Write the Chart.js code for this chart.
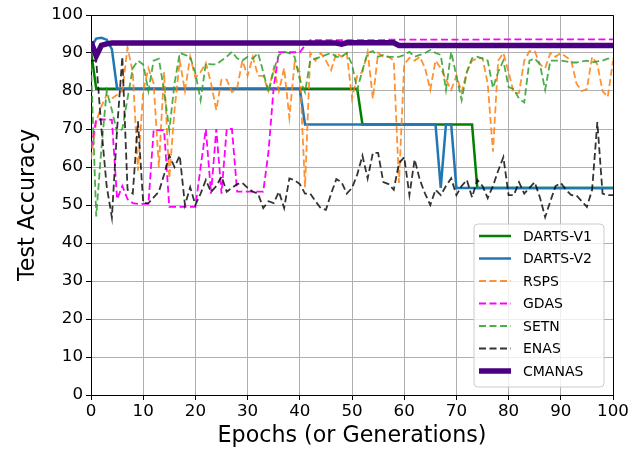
<!DOCTYPE html>
<html><head><meta charset="utf-8">
<script src="https://cdn.jsdelivr.net/npm/chart.js@4.4.0/dist/chart.umd.min.js"></script>
<style>html,body{margin:0;padding:0;background:#fff;}</style>
</head><body>
<canvas id="c" width="640" height="451"></canvas>
<script>
const epochs = Array.from({length: 101}, (_, i) => i);
const xTicks = [0, 10, 20, 30, 40, 50, 60, 70, 80, 90, 100];
const yTicks = [0, 10, 20, 30, 40, 50, 60, 70, 80, 90, 100];
const labels = ["DARTS-V1", "DARTS-V2", "RSPS", "GDAS", "SETN", "ENAS", "CMANAS"];

const dartsV1 = [90.5,
 80.6,80.6,80.6,80.6,80.6,80.6,80.6,80.6,80.6,80.6,
 80.6,80.6,80.6,80.6,80.6,80.6,80.6,80.6,80.6,80.6,
 80.6,80.6,80.6,80.6,80.6,80.6,80.6,80.6,80.6,80.6,
 80.6,80.6,80.6,80.6,80.6,80.6,80.6,80.6,80.6,80.6,
 80.6,80.6,80.6,80.6,80.6,80.6,80.6,80.6,80.6,80.6,
 80.6,
 71.2,71.2,71.2,71.2,71.2,71.2,71.2,71.2,71.2,71.2,71.2,
 71.2,71.2,71.2,71.2,71.2,71.2,71.2,71.2,71.2,71.2,71.2,
 54.5,54.5,54.5,54.5,54.5,54.5,54.5,54.5,54.5,54.5,54.5,54.5,54.5,54.5,
 54.5,54.5,54.5,54.5,54.5,54.5,54.5,54.5,54.5,54.5,54.5,54.5,54.5];

const dartsV2 = [91.5, 93.8, 94.0, 93.5, 91.0,
 80.6,80.6,80.6,80.6,80.6,80.6,80.6,80.6,80.6,80.6,80.6,80.6,
 80.6,80.6,80.6,80.6,80.6,80.6,80.6,80.6,80.6,80.6,80.6,80.6,
 80.6,80.6,80.6,80.6,80.6,80.6,80.6,80.6,80.6,80.6,80.6,80.6,
 71.2,71.2,71.2,71.2,71.2,71.2,71.2,71.2,71.2,71.2,71.2,71.2,71.2,
 71.2,71.2,71.2,71.2,71.2,71.2,71.2,71.2,71.2,71.2,71.2,71.2,71.2,
 54.5, 71.2, 71.2,
 54.5,54.5,54.5,54.5,54.5,54.5,54.5,54.5,54.5,54.5,54.5,54.5,54.5,54.5,54.5,54.5,
 54.5,54.5,54.5,54.5,54.5,54.5,54.5,54.5,54.5,54.5,54.5,54.5,54.5,54.5,54.5];

const rsps = [
 62, 72, 76, 79, 78, 79, 80, 91.5, 85, 59,
 80, 86, 82, 60, 85, 57, 75, 88, 80, 89,
 83.5, 85, 87.4, 82, 75, 83, 83, 79.7, 80.8, 88,
 84, 89, 84, 84, 80, 86, 80, 86, 73, 87.4,
 85, 54.7, 90, 88, 90, 88, 85.5, 90, 89, 90,
 78, 84, 85, 90.3, 78, 90, 89, 89, 88, 55.8,
 87, 88.7, 88, 89, 86, 80.3, 88, 86, 83, 80.3,
 84, 79.7, 85, 88, 88.5, 88.7, 82, 64, 88, 90,
 85, 79.4, 79.5, 88, 90.5, 90.5, 87, 86, 90, 89,
 90, 89, 88, 82, 80, 80.5, 89, 87, 80, 78.4,
 88];

const gdas = [
 65, 72.5, 72.5, 72.5, 72.4, 51.5, 55, 51.5, 50.5, 50.3,
 50.3, 50.3, 69.7, 69.7, 69.7, 49.5, 49.5, 49.5, 49.5, 49.5,
 49.5, 60, 70, 53, 70, 53, 70, 70, 53.5, 53.5,
 53.5, 53.5, 53.5, 53.5, 64, 81, 90.2, 90.2, 90.2, 90.2,
 90.2, 92, 93.4, 93.4, 93.4, 93.4, 93.4, 93.4, 93.4, 93.4,
 93.4, 93.4, 93.4, 93.4, 93.4, 93.4, 93.4, 93.5, 93.5, 93.5,
 93.5, 93.5, 93.5, 93.5, 93.5, 93.5, 93.5, 93.5, 93.5, 93.5,
 93.5, 93.5, 93.5, 93.5, 93.5, 93.6, 93.6, 93.6, 93.6, 93.6,
 93.6, 93.6, 93.6, 93.6, 93.6, 93.6, 93.6, 93.6, 93.6, 93.6,
 93.6, 93.6, 93.6, 93.6, 93.6, 93.6, 93.6, 93.6, 93.6, 93.6,
 93.6];

const setn = [
 87, 47, 65, 80, 75, 69, 70, 78, 86, 88,
 87, 80, 88, 88.5, 80, 69.7, 82, 90, 89.5, 89,
 84.7, 77.6, 87.3, 87, 87, 88, 89, 90.3, 88.6, 88,
 89, 88.5, 90, 85, 79.7, 85.5, 89.5, 90.3, 90, 89,
 83, 79.7, 88, 88.5, 89, 89.5, 90, 89, 89, 90,
 87, 80.3, 85.5, 90, 90.5, 89, 89.5, 89, 89, 89,
 89.5, 90.3, 89, 89.5, 90, 90.8, 90, 89.5, 80.3, 90.3,
 84, 77.6, 85, 88.6, 89, 88.5, 88, 80.8, 85, 88,
 81, 80.5, 78, 77, 88, 88.6, 87, 80.3, 88, 88,
 88, 87.8, 87.5, 87.5, 87.8, 88, 87.5, 87.8, 88, 88.5,
 88.5];

const enas = [
 88, 88, 70, 55, 46.7, 70, 89, 54, 53, 72,
 50.5, 50.5, 52, 53.5, 58, 63, 60, 63, 50, 54.7,
 50, 53, 56.6, 53.4, 55, 57.5, 53.5, 54.5, 55.5, 55.8,
 54.5, 53.5, 53, 49.2, 51, 50.5, 53.5, 49.2, 57, 56.5,
 55.5, 53, 53, 51, 49.2, 48.7, 53, 56.8, 56, 53,
 54.5, 58, 63, 57, 63.7, 63.7, 56, 55.5, 54, 61,
 62.6, 52.6, 62, 56.6, 53, 50, 54, 52.6, 55, 57,
 52.6, 55, 56.6, 52, 56.6, 55, 51.8, 55, 59, 62.6,
 52.6, 52.6, 56, 53, 54.5, 56, 52, 46.8, 51, 55,
 55.8, 54, 52.6, 52.5, 51, 49.5, 54, 71.8, 53, 52.6,
 52.6];

const cmanas = [93, 89.2, 92, 92.4,
 92.6,92.6,92.6,92.6,92.6,92.6,92.6,92.6,92.6,92.6,92.6,
 92.6,92.6,92.6,92.6,92.6,92.6,92.6,92.6,92.6,92.6,92.6,
 92.6,92.6,92.6,92.6,92.6,92.6,92.6,92.6,92.6,92.6,92.6,
 92.6,92.6,92.6,92.6,92.6,92.6,92.6,92.6,92.6,92.6,92.6,
 92.3,
 92.7,92.7,92.7,92.7,92.7,92.7,92.7,92.7,92.7,92.7,
 92.0,92.0,92.0,92.0,92.0,92.0,92.0,92.0,92.0,92.0,92.0,92.0,92.0,92.0,
 92.0,92.0,92.0,92.0,92.0,92.0,92.0,92.0,92.0,92.0,92.0,92.0,92.0,92.0,
 92.0,92.0,92.0,92.0,92.0,92.0,92.0,92.0,92.0,92.0,92.0,92.0,92.0,92.0];

const seriesValues = [dartsV1, dartsV2, rsps, gdas, setn, enas, cmanas];
const styles = [
  {color: '#008000', width: 2.5, dash: []},
  {color: '#1f77b4', width: 2.5, dash: []},
  {color: 'rgba(255,127,14,0.85)', width: 1.8, dash: [7, 3.5]},
  {color: '#ff00ff', width: 1.8, dash: [7, 3.5]},
  {color: 'rgba(44,160,44,0.85)', width: 1.8, dash: [7, 3.5]},
  {color: 'rgba(0,0,0,0.8)', width: 1.8, dash: [7, 3.5]},
  {color: '#4b0082', width: 5.5, dash: []}
];

const datasets = labels.map((lab, k) => ({
  label: lab,
  data: seriesValues[k].map((v, i) => ({x: epochs[i], y: v})),
  borderColor: styles[k].color,
  backgroundColor: styles[k].color,
  borderWidth: styles[k].width,
  borderDash: styles[k].dash,
  pointRadius: 0,
  tension: 0,
  fill: false,
  order: labels.length - k
}));

const FONT = "'DejaVu Sans', sans-serif";

const framePlugin = {
  id: 'frame',
  afterDraw(chart) {
    const {ctx, chartArea: a} = chart;
    ctx.save();
    ctx.strokeStyle = '#000';
    ctx.lineWidth = 1;
    ctx.beginPath();
    ctx.moveTo(a.left, a.top + 0.5);
    ctx.lineTo(a.right + 0.5, a.top + 0.5);
    ctx.lineTo(a.right + 0.5, a.bottom);
    ctx.stroke();
    // legend
    const bx = 474, by = 224, bw = 130, bh = 163, r = 4;
    ctx.beginPath();
    ctx.moveTo(bx + r, by);
    ctx.arcTo(bx + bw, by, bx + bw, by + bh, r);
    ctx.arcTo(bx + bw, by + bh, bx, by + bh, r);
    ctx.arcTo(bx, by + bh, bx, by, r);
    ctx.arcTo(bx, by, bx + bw, by, r);
    ctx.closePath();
    ctx.fillStyle = 'rgba(255,255,255,0.8)';
    ctx.fill();
    ctx.strokeStyle = '#cccccc';
    ctx.stroke();
    chart.data.datasets.forEach((ds, i) => {
      const y = 236 + i * 22.5;
      ctx.save();
      ctx.strokeStyle = ds.borderColor;
      ctx.lineWidth = ds.borderWidth;
      ctx.setLineDash(ds.borderDash || []);
      ctx.beginPath();
      ctx.moveTo(479, y);
      ctx.lineTo(511, y);
      ctx.stroke();
      ctx.restore();
      ctx.fillStyle = '#000';
      ctx.font = "14px " + FONT;
      ctx.textBaseline = 'middle';
      ctx.textAlign = 'left';
      ctx.fillText(ds.label, 523, y + 1);
    });
    ctx.restore();
  }
};

new Chart(document.getElementById('c'), {
  type: 'line',
  data: {datasets},
  options: {
    responsive: false,
    animation: false,
    devicePixelRatio: 1,
    layout: {padding: {left: 0, right: 27, top: 15, bottom: 0}},
    plugins: {legend: {display: false}, tooltip: {enabled: false}},
    scales: {
      x: {
        type: 'linear', min: 0, max: 100,
        afterFit(s) { s.height = 56; },
        afterBuildTicks(s) { s.ticks = xTicks.map(v => ({value: v})); },
        ticks: {color: '#000', font: {family: FONT, size: 16.7}, padding: 2, maxRotation: 0},
        grid: {color: '#b0b0b0', lineWidth: 1, tickLength: 5, tickColor: '#000'},
        border: {color: '#000', width: 1},
        title: {display: true, text: 'Epochs (or Generations)', color: '#000',
                font: {family: FONT, size: 22.2}, padding: {top: 0, bottom: 1}}
      },
      y: {
        min: 0, max: 100,
        afterFit(s) { s.width = 91; },
        afterBuildTicks(s) { s.ticks = yTicks.map(v => ({value: v})); },
        ticks: {color: '#000', font: {family: FONT, size: 16.7}, padding: 3},
        grid: {color: '#b0b0b0', lineWidth: 1, tickLength: 5, tickColor: '#000'},
        border: {color: '#000', width: 1},
        title: {display: true, text: 'Test Accuracy', color: '#000',
                font: {family: FONT, size: 22.2}, padding: {top: 15, bottom: 0}}
      }
    }
  },
  plugins: [framePlugin]
});
</script>
</body></html>
